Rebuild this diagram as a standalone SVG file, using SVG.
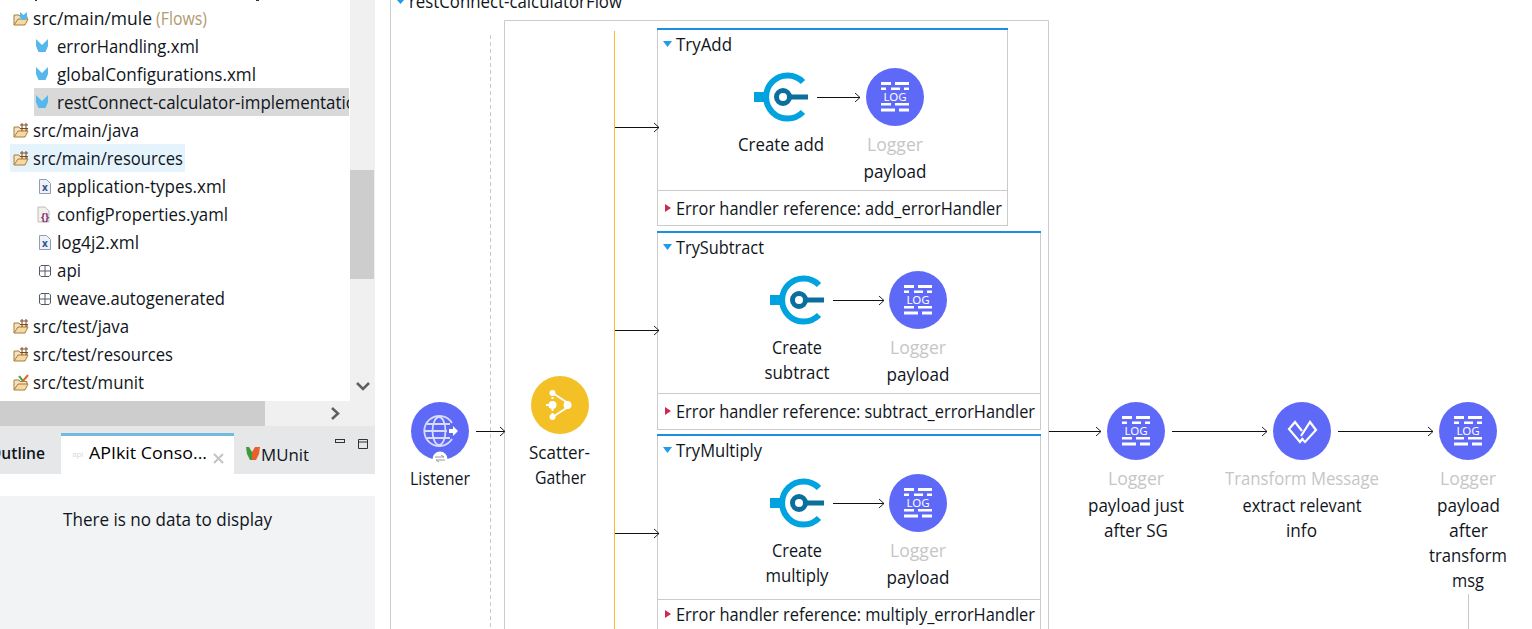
<svg xmlns="http://www.w3.org/2000/svg" xmlns:xlink="http://www.w3.org/1999/xlink" width="1532" height="629" viewBox="0 0 1532 629">
<style>
text{font-family:"Open Sans","Noto Sans","Liberation Sans",sans-serif;font-size:17.5px;fill:#10151c}
.m{text-anchor:middle}
.g{fill:#c6c6c6}
.f{fill:#b29a6e}
.log{font-size:11.5px;fill:#fff;text-anchor:middle;font-family:"Noto Sans",sans-serif}
.box{fill:#fff;stroke:#cbcbcb;stroke-width:1}
.div{stroke:#cbcbcb;stroke-width:1;fill:none}
.blue{fill:#1d8fe0}
.conn{stroke:#111;stroke-width:1;fill:none;marker-end:url(#arr)}
.bc{fill:#5f69f8}
.w{fill:#fff}
</style>
<defs>
<marker id="arr" markerUnits="userSpaceOnUse" markerWidth="8" markerHeight="12" refX="7" refY="6" orient="auto"><path d="M2,1.500L7,6L2,10.500" fill="none" stroke="#222" stroke-width="1"/></marker>
<clipPath id="treeClip"><rect x="0" y="0" width="349" height="400"/></clipPath>
<clipPath id="tabClip"><rect x="0" y="426" width="60" height="48"/></clipPath>
<g id="logger"><circle r="29" class="bc"/><path class="w" d="M-14,-15h10v3h-10zM0,-15h14v3h-14zM-14,-9.500h5v2.500h-5zM-4,-9.500h9v2.500h-9zM9,-9.500h5v2.500h-5zM-14,6h10v2.500h-10zM0,6h14v2.500h-14zM-14,11.500h14v3h-14zM4,11.500h10v3h-10z"/></g>
<g id="connector"><path d="M15,-15A21.500,21.500 0 1 0 15,15" transform="translate(34,0)" fill="none" stroke="#00a3e0" stroke-width="6"/><rect x="0" y="-5" width="10" height="10" fill="#00a3e0"/><circle cx="29" r="6.500" fill="none" stroke="#0b6f9e" stroke-width="5"/><rect x="35" y="-2.500" width="19" height="5" fill="#0b6f9e"/></g>
<g id="folder"><path d="M1,15V5h5l1,1.500h7V9" fill="#f3e2bf" stroke="#a67c3d"/><path d="M1,15L5,9H15L12,15Z" fill="#f6d9a0" stroke="#a67c3d"/></g>
<g id="pkg"><use href="#folder"/><path d="M7,3h8M7,6.500h8M9,1v8M13,1v8" stroke="#7a4a24" stroke-width="1" fill="none"/></g>
<g id="mule"><path d="M0,0L6,6L12,0L12,7L9.500,13H2.500L0,7Z" fill="#55b8ec"/></g>
<g id="xmlfile"><path d="M.5,.5H7.500L11.500,4.500V14.500H.5Z" fill="#eef2f8" stroke="#8e9fb8"/><text x="6" y="12" style="font-size:10px;font-weight:700;fill:#33518a;text-anchor:middle">x</text></g>
<g id="pk"><path d="M2,.5H10L11.500,2V10L10,11.500H2L.5,10V2ZM.5,6H11.500M6,.5V11.500" fill="none" stroke="#555b66" stroke-width="1"/></g>
</defs>
<rect width="1532" height="629" fill="#fff"/>

<g id="explorer">
<rect x="35" y="0" width="2" height="1" fill="#333"/><rect x="256" y="0" width="3" height="1" fill="#333"/>
<rect x="350" y="0" width="25" height="401" fill="#f0f0f0"/>
<rect x="350" y="170" width="24" height="109" fill="#cdcdcd"/>
<path d="M357,383l6,6l6,-6" fill="none" stroke="#606060" stroke-width="2.500"/>
<rect x="0" y="401" width="375" height="25" fill="#f0f0f0"/>
<rect x="0" y="401" width="265" height="25" fill="#cdcdcd"/>
<path d="M332,408l6,5.500l-6,5.500" fill="none" stroke="#606060" stroke-width="2.500"/>
<rect x="34" y="88" width="315" height="28" fill="#d9d9d9"/>
<rect x="10" y="144" width="175" height="28" fill="#e5f3fd"/>
<g clip-path="url(#treeClip)">
<use href="#folder" x="13" y="10"/><path d="M20,12l3.500,3l3.500,-3v5l-2,3h-3l-2,-3z" fill="#55b8ec"/>
<text x="33" y="25" textLength="119" lengthAdjust="spacingAndGlyphs">src/main/mule</text><text x="156" y="25" textLength="51" lengthAdjust="spacingAndGlyphs" class="f">(Flows)</text>
<use href="#mule" x="36" y="39"/><text x="57" y="53" textLength="142" lengthAdjust="spacingAndGlyphs">errorHandling.xml</text>
<use href="#mule" x="36" y="67"/><text x="57" y="81" textLength="199" lengthAdjust="spacingAndGlyphs">globalConfigurations.xml</text>
<use href="#mule" x="36" y="95"/><text x="57" y="109" textLength="299" lengthAdjust="spacingAndGlyphs">restConnect-calculator-implementatio</text>
<use href="#pkg" x="13" y="122"/><text x="33" y="137" textLength="106" lengthAdjust="spacingAndGlyphs">src/main/java</text>
<use href="#pkg" x="13" y="150"/><text x="33" y="165" textLength="150" lengthAdjust="spacingAndGlyphs">src/main/resources</text>
<use href="#xmlfile" x="39" y="179"/><text x="57" y="193" textLength="169" lengthAdjust="spacingAndGlyphs">application-types.xml</text>
<path d="M38,207H45L49,211V222H38Z" fill="#f2f0ea" stroke="#bbb"/><text x="45" y="221" style="font-size:10px;fill:#7a1f6e;font-weight:bold;text-anchor:middle">{}</text><text x="57" y="221" textLength="171" lengthAdjust="spacingAndGlyphs">configProperties.yaml</text>
<use href="#xmlfile" x="39" y="235"/><text x="57" y="249" textLength="82" lengthAdjust="spacingAndGlyphs">log4j2.xml</text>
<use href="#pk" x="39" y="265"/><text x="57" y="277" textLength="24" lengthAdjust="spacingAndGlyphs">api</text>
<use href="#pk" x="39" y="293"/><text x="57" y="305" textLength="168" lengthAdjust="spacingAndGlyphs">weave.autogenerated</text>
<use href="#pkg" x="13" y="318"/><text x="33" y="333" textLength="96" lengthAdjust="spacingAndGlyphs">src/test/java</text>
<use href="#pkg" x="13" y="346"/><text x="33" y="361" textLength="140" lengthAdjust="spacingAndGlyphs">src/test/resources</text>
<use href="#folder" x="13" y="375"/><path d="M19,376l4,5" fill="none" stroke="#3f9a3c" stroke-width="2"/><path d="M23,381l5,-6" fill="none" stroke="#e0682a" stroke-width="2"/><text x="33" y="389" textLength="111" lengthAdjust="spacingAndGlyphs">src/test/munit</text>
</g>
</g>

<g id="console">
<rect x="0" y="426" width="375" height="48" fill="#e6e7e9"/>
<rect x="61" y="433" width="173" height="41" fill="#fff"/>
<rect x="61" y="433" width="173" height="3" fill="#74b9e0"/>
<rect x="0" y="474" width="375" height="22" fill="#fff"/>
<rect x="0" y="496" width="375" height="133" fill="#f2f3f5"/>
<g clip-path="url(#tabClip)"><text x="45" y="459" textLength="56" lengthAdjust="spacingAndGlyphs" style="font-size:16px;font-weight:600;text-anchor:end">Outline</text></g>
<text x="72" y="457" style="font-size:8px;fill:#d8d8d8">api</text>
<text x="89" y="459" textLength="118" lengthAdjust="spacingAndGlyphs" style="font-size:16.500px;fill:#000">APIkit Conso...</text>
<path d="M214,454l9,9M223,454l-9,9" stroke="#c4c4c4" stroke-width="2"/>
<path d="M252,452l3,-5h5l-1,7l-3,6h-4z" fill="#e8602c"/><path d="M252,452l-3,-5h-3l1,7l3,6h2z" fill="#3f9a3c"/>
<text x="261" y="461" textLength="48" lengthAdjust="spacingAndGlyphs" style="font-size:16.500px">MUnit</text>
<rect x="335.500" y="439.500" width="9" height="3" fill="none" stroke="#333"/>
<path d="M358.500,439.500h9v9h-9zM358.500,442h9" fill="none" stroke="#333"/>
<text x="63" y="526" textLength="209" lengthAdjust="spacingAndGlyphs">There is no data to display</text>
</g>

<g id="flow-frame">
<path class="div" d="M390.500,0V629"/>
<path d="M490.500,35V629" fill="none" stroke="#c9c9c9" stroke-dasharray="4 3"/>
<path class="div" d="M504.500,629V20.500H1048.500V629"/>
<path d="M614.500,31V629" fill="none" stroke="#efc12a"/>
<path d="M397,0h7l-3.500,4z" fill="#1d9bf0"/>
<text x="409" y="8" textLength="213" lengthAdjust="spacingAndGlyphs">restConnect-calculatorFlow</text>
</g>

<g id="tryAdd">
<rect x="657.500" y="28.500" width="350" height="197" class="box"/>
<rect x="657" y="28" width="351" height="2" class="blue"/>
<path class="div" d="M657.500,190.500H1007"/>
<path d="M663,41h9l-4.500,6z" fill="#1d9bf0"/>
<text x="676" y="51" textLength="56" lengthAdjust="spacingAndGlyphs">TryAdd</text>
<path d="M665,204v8l6,-4z" fill="#d0284f"/>
<text x="676" y="215" textLength="326" lengthAdjust="spacingAndGlyphs">Error handler reference: add_errorHandler</text>
</g>
<g id="createAdd">
<use href="#connector" x="754" y="97"/>
<text class="m" x="781" y="151" textLength="86" lengthAdjust="spacingAndGlyphs">Create add</text>
</g>
<g id="loggerAdd">
<use href="#logger" x="895" y="97"/><text class="log" x="895" y="101">LOG</text>
<text class="m g" x="895" y="151" textLength="56" lengthAdjust="spacingAndGlyphs">Logger</text>
<text class="m" x="895" y="178" textLength="63" lengthAdjust="spacingAndGlyphs">payload</text>
</g>

<g id="trySubtract">
<rect x="657.500" y="231.500" width="383" height="198" class="box"/>
<rect x="657" y="231" width="384" height="2" class="blue"/>
<path class="div" d="M657.500,393.500H1040"/>
<path d="M663,244h9l-4.500,6z" fill="#1d9bf0"/>
<text x="676" y="254" textLength="88" lengthAdjust="spacingAndGlyphs">TrySubtract</text>
<path d="M665,407v8l6,-4z" fill="#d0284f"/>
<text x="676" y="418" textLength="359" lengthAdjust="spacingAndGlyphs">Error handler reference: subtract_errorHandler</text>
</g>
<g id="createSubtract">
<use href="#connector" x="770" y="300"/>
<text class="m" x="797" y="354" textLength="50" lengthAdjust="spacingAndGlyphs">Create</text>
<text class="m" x="797" y="379" textLength="65" lengthAdjust="spacingAndGlyphs">subtract</text>
</g>
<g id="loggerSubtract">
<use href="#logger" x="918" y="300"/><text class="log" x="918" y="304">LOG</text>
<text class="m g" x="918" y="354" textLength="56" lengthAdjust="spacingAndGlyphs">Logger</text>
<text class="m" x="918" y="381" textLength="63" lengthAdjust="spacingAndGlyphs">payload</text>
</g>

<g id="tryMultiply">
<rect x="657.500" y="434.500" width="383" height="200" class="box"/>
<rect x="657" y="434" width="384" height="2" class="blue"/>
<path class="div" d="M657.500,599.500H1040"/>
<path d="M663,447h9l-4.500,6z" fill="#1d9bf0"/>
<text x="676" y="457" textLength="86" lengthAdjust="spacingAndGlyphs">TryMultiply</text>
<path d="M665,610v8l6,-4z" fill="#d0284f"/>
<text x="676" y="621" textLength="359" lengthAdjust="spacingAndGlyphs">Error handler reference: multiply_errorHandler</text>
</g>
<g id="createMultiply">
<use href="#connector" x="770" y="503"/>
<text class="m" x="797" y="557" textLength="50" lengthAdjust="spacingAndGlyphs">Create</text>
<text class="m" x="797" y="582" textLength="63" lengthAdjust="spacingAndGlyphs">multiply</text>
</g>
<g id="loggerMultiply">
<use href="#logger" x="918" y="503"/><text class="log" x="918" y="507">LOG</text>
<text class="m g" x="918" y="557" textLength="56" lengthAdjust="spacingAndGlyphs">Logger</text>
<text class="m" x="918" y="584" textLength="63" lengthAdjust="spacingAndGlyphs">payload</text>
</g>

<g id="listener">
<circle cx="440" cy="431" r="29" class="bc"/>
<g fill="none" stroke="#d8dcfb" stroke-width="1.800"><path d="M452,423A15,15 0 1 0 452,439"/><ellipse cx="439" cy="431" rx="6.500" ry="14"/><path d="M425,431H447M427,424H450M427,438H450"/></g>
<path class="w" d="M449,429h4v-3l5,5l-5,5v-3h-4z"/>
<circle cx="440" cy="459" r="7.500" fill="#fff"/>
<path d="M435,457h9l-3,-2M445,460h-9l3,2" fill="none" stroke="#999" stroke-width="1"/>
<text class="m" x="440" y="485" textLength="60" lengthAdjust="spacingAndGlyphs">Listener</text>
</g>

<g id="scatterGather">
<circle cx="560" cy="405" r="29" fill="#f3c026"/>
<path d="M552.500,393L568,403M552.500,417L568,407M546,405h6" stroke="#fff" stroke-width="2" fill="none"/>
<path d="M552.500,393V417" stroke="#fff" stroke-width="2" stroke-dasharray="2 2" fill="none"/>
<circle cx="552.500" cy="393" r="3" class="w"/><circle cx="552.500" cy="405" r="4" class="w"/><circle cx="552.500" cy="417" r="3" class="w"/><circle cx="567.500" cy="405" r="4" class="w"/>
<text class="m" x="559.500" y="459" textLength="61" lengthAdjust="spacingAndGlyphs">Scatter-</text>
<text class="m" x="560.500" y="484" textLength="51" lengthAdjust="spacingAndGlyphs">Gather</text>
</g>

<g id="loggerJustAfter">
<use href="#logger" x="1136" y="431"/><text class="log" x="1136" y="435">LOG</text>
<text class="m g" x="1136" y="485" textLength="56" lengthAdjust="spacingAndGlyphs">Logger</text>
<text class="m" x="1136" y="512" textLength="96" lengthAdjust="spacingAndGlyphs">payload just</text>
<text class="m" x="1136" y="537" textLength="64" lengthAdjust="spacingAndGlyphs">after SG</text>
</g>
<g id="transformMessage">
<circle cx="1302" cy="431" r="29" class="bc"/>
<path d="M1302,431L1295,422L1289,429L1300,442L1303,438M1301,436L1310,422L1316,430L1305,442L1302,439" fill="none" stroke="#fff" stroke-width="2.200"/>
<text class="m g" x="1302" y="485" textLength="154" lengthAdjust="spacingAndGlyphs">Transform Message</text>
<text class="m" x="1302" y="512" textLength="119" lengthAdjust="spacingAndGlyphs">extract relevant</text>
<text class="m" x="1301.500" y="537" textLength="31" lengthAdjust="spacingAndGlyphs">info</text>
</g>
<g id="loggerAfterTransform">
<use href="#logger" x="1468" y="431"/><text class="log" x="1468" y="435">LOG</text>
<text class="m g" x="1468" y="485" textLength="56" lengthAdjust="spacingAndGlyphs">Logger</text>
<text class="m" x="1468.500" y="512" textLength="63" lengthAdjust="spacingAndGlyphs">payload</text>
<text class="m" x="1468.500" y="537" textLength="39" lengthAdjust="spacingAndGlyphs">after</text>
<text class="m" x="1468" y="562" textLength="78" lengthAdjust="spacingAndGlyphs">transform</text>
<text class="m" x="1468" y="587" textLength="32" lengthAdjust="spacingAndGlyphs">msg</text>
</g>

<g id="connectors">
<path class="conn" d="M476,431.500H505"/>
<path class="conn" d="M615,127.500H659"/>
<path class="conn" d="M615,330.500H659"/>
<path class="conn" d="M615,533.500H659"/>
<path class="conn" d="M817,97.500H860"/>
<path class="conn" d="M833,300.500H884"/>
<path class="conn" d="M833,503.500H884"/>
<path class="conn" d="M1049,431.500H1101"/>
<path class="conn" d="M1172,431.500H1267"/>
<path class="conn" d="M1338,431.500H1433"/>
<path d="M1468.500,594V629" fill="none" stroke="#c9c9c9"/>
</g>
</svg>
